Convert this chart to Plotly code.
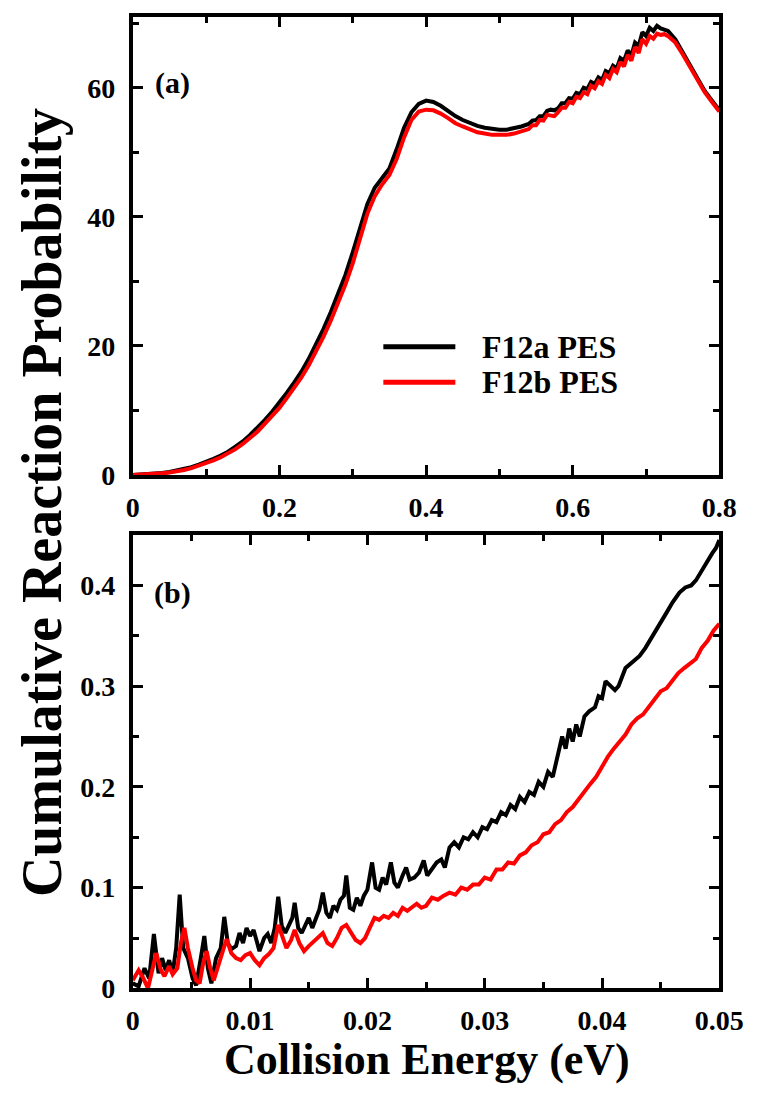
import plotly.graph_objects as go

# ---------------- Panel (a) data ----------------
energy_a = [0.00, 0.01, 0.02, 0.03, 0.04, 0.05, 0.06, 0.07, 0.08, 0.09,
            0.10, 0.11, 0.12, 0.13, 0.14, 0.15, 0.16, 0.17, 0.18, 0.19,
            0.20, 0.21, 0.22, 0.23, 0.24, 0.25, 0.26, 0.27, 0.28, 0.29,
            0.30, 0.31, 0.32, 0.33, 0.34, 0.35, 0.36, 0.37, 0.38, 0.39,
            0.40, 0.41, 0.42, 0.43, 0.44, 0.45, 0.46, 0.47, 0.48, 0.49,
            0.50, 0.51, 0.52, 0.53,
            0.540, 0.545, 0.550, 0.555, 0.560, 0.565, 0.570, 0.575, 0.580, 0.585,
            0.590, 0.595, 0.600, 0.605, 0.610, 0.615, 0.620, 0.625, 0.630, 0.635,
            0.640, 0.645, 0.650, 0.655, 0.660, 0.665, 0.670, 0.675, 0.680, 0.685,
            0.690, 0.695, 0.700, 0.705, 0.710, 0.715, 0.720, 0.725, 0.730,
            0.74, 0.75, 0.76, 0.77, 0.78, 0.79, 0.80]
f12a_a = [0.0, 0.05, 0.1, 0.2, 0.3, 0.45, 0.65, 0.9, 1.2, 1.6,
          2.0, 2.5, 3.0, 3.6, 4.4, 5.2, 6.2, 7.3, 8.5, 9.8,
          11.2, 12.7, 14.3, 16.0, 18.0, 20.2, 22.6, 25.2, 28.0, 31.0,
          34.5, 38.5, 42.0, 44.5, 46.0, 47.5, 50.5, 53.8, 56.2, 57.5,
          58.0, 57.8, 57.2, 56.4, 55.6, 55.0, 54.5, 54.1, 53.8, 53.6,
          53.5, 53.5, 53.7, 54.0,
          54.4, 54.9, 55.0, 55.6, 55.6, 56.4, 56.6, 56.5, 56.8, 57.6,
          57.6, 58.4, 58.3, 59.2, 59.0, 60.0, 59.8, 60.9, 60.6, 61.6,
          61.2, 62.6, 62.3, 63.4, 63.0, 64.6, 64.2, 65.8, 65.0, 67.0,
          66.5, 68.6, 68.0, 69.3, 68.8, 69.6, 69.2, 69.0, 68.8,
          67.5, 65.5, 63.5, 61.5, 59.5, 58.0, 56.5]
f12b_a = [0.0, 0.04, 0.08, 0.15, 0.25, 0.38, 0.55, 0.78, 1.05, 1.4,
          1.8, 2.25, 2.75, 3.3, 4.0, 4.8, 5.7, 6.7, 7.9, 9.1,
          10.4, 11.9, 13.4, 15.1, 17.0, 19.1, 21.4, 23.9, 26.6, 29.5,
          32.8, 36.5, 40.5, 43.2, 45.0, 46.5, 49.0, 52.3, 55.0, 56.3,
          56.6, 56.5, 56.0, 55.3, 54.5, 54.0, 53.5, 53.1, 52.9, 52.7,
          52.7, 52.7, 52.9, 53.2,
          53.6, 54.2, 54.2, 55.0, 54.9, 55.8, 55.7, 55.6, 56.2, 56.9,
          56.9, 57.8, 57.6, 58.6, 58.4, 59.3, 59.0, 60.3, 59.9, 61.0,
          60.6, 62.0, 61.5, 62.9, 62.4, 64.0, 63.3, 65.1, 64.2, 66.3,
          65.4, 67.5, 66.8, 68.0, 67.6, 68.4, 68.2, 68.3, 68.0,
          67.0, 65.2, 63.2, 61.2, 59.3, 57.8, 56.3]

# ---------------- Panel (b) data ----------------
energy_b_a = [0.0000, 0.0005, 0.0010, 0.0014, 0.0018, 0.0022, 0.0025, 0.0028, 0.0031, 0.0034,
              0.0037, 0.0040, 0.0043, 0.0047, 0.0051, 0.0054, 0.0058, 0.0061, 0.0064, 0.0067,
              0.0071, 0.0075, 0.0078, 0.0081, 0.0084, 0.0088, 0.0091, 0.0094, 0.0097, 0.0100,
              0.0103, 0.0106, 0.0108, 0.0112, 0.0115, 0.0118, 0.0121, 0.0124, 0.0127, 0.0130,
              0.0133, 0.0136, 0.0138, 0.0141, 0.0144, 0.0147, 0.0150, 0.0153, 0.0156, 0.0159,
              0.0162, 0.0165, 0.0168, 0.0171, 0.0174, 0.0177, 0.0180, 0.0182, 0.0185, 0.0188,
              0.0191, 0.0194, 0.0197, 0.0200, 0.0204, 0.0207, 0.0210, 0.0213, 0.0216, 0.0220,
              0.0223, 0.0226, 0.0230, 0.0233, 0.0236, 0.0240, 0.0244, 0.0248, 0.0251, 0.0255,
              0.0259, 0.0263, 0.0266, 0.0270, 0.0274, 0.0278, 0.0282, 0.0286, 0.0290, 0.0294,
              0.0298, 0.0302, 0.0306, 0.0310, 0.0314, 0.0318, 0.0322, 0.0326, 0.0330, 0.0334,
              0.0338, 0.0342, 0.0346, 0.0350, 0.0354, 0.0358, 0.0362, 0.0366, 0.0369, 0.0372,
              0.0375, 0.0378, 0.0381, 0.0385, 0.0389, 0.0394, 0.0397, 0.0400, 0.0403, 0.0407,
              0.0411, 0.0414, 0.0420, 0.0427, 0.0432, 0.0437, 0.0444, 0.0450, 0.0455, 0.0460,
              0.0466, 0.0471, 0.0476, 0.0480, 0.0485, 0.0490, 0.0494, 0.0497, 0.0500]
f12a_b = [0.005, 0.002, 0.020, 0.010, 0.054, 0.015, 0.030, 0.018, 0.028, 0.015,
          0.040, 0.093, 0.040, 0.030, 0.010, 0.003, 0.030, 0.052, 0.020, 0.005,
          0.030, 0.040, 0.071, 0.045, 0.039, 0.042, 0.055, 0.045, 0.060, 0.052,
          0.058, 0.045, 0.037, 0.050, 0.054, 0.045, 0.060, 0.091, 0.062, 0.055,
          0.062, 0.070, 0.085, 0.060, 0.055, 0.062, 0.070, 0.060, 0.068, 0.078,
          0.095, 0.075, 0.070, 0.082, 0.078, 0.088, 0.092, 0.112, 0.080, 0.078,
          0.090, 0.082, 0.092, 0.098, 0.125, 0.100, 0.098, 0.110, 0.103, 0.125,
          0.105, 0.100, 0.112, 0.120, 0.108, 0.110, 0.115, 0.127, 0.112, 0.118,
          0.125, 0.128, 0.120, 0.140, 0.145, 0.140, 0.150, 0.148, 0.155, 0.150,
          0.160, 0.158, 0.167, 0.165, 0.175, 0.172, 0.182, 0.178, 0.190, 0.185,
          0.195, 0.192, 0.205, 0.200, 0.215, 0.210, 0.232, 0.250, 0.238, 0.258,
          0.245, 0.262, 0.250, 0.270, 0.275, 0.279, 0.290, 0.288, 0.305, 0.300,
          0.296, 0.300, 0.318, 0.325, 0.330, 0.338, 0.351, 0.362, 0.373, 0.383,
          0.393, 0.398, 0.400, 0.405, 0.415, 0.425, 0.432, 0.437, 0.445]

energy_b_b = [0.0000, 0.0005, 0.0009, 0.0013, 0.0017, 0.0020, 0.0024, 0.0027, 0.0031, 0.0034,
              0.0038, 0.0041, 0.0044, 0.0047, 0.0051, 0.0054, 0.0057, 0.0060, 0.0063, 0.0066,
              0.0069, 0.0072, 0.0076, 0.0080, 0.0084, 0.0088, 0.0092, 0.0096, 0.0100, 0.0104,
              0.0108, 0.0112, 0.0116, 0.0120, 0.0124, 0.0128, 0.0131, 0.0135, 0.0138, 0.0142,
              0.0146, 0.0150, 0.0154, 0.0158, 0.0162, 0.0166, 0.0170, 0.0174, 0.0178, 0.0182,
              0.0186, 0.0190, 0.0194, 0.0198, 0.0202, 0.0206, 0.0210, 0.0214, 0.0218, 0.0222,
              0.0226, 0.0230, 0.0234, 0.0238, 0.0242, 0.0246, 0.0250, 0.0255, 0.0260, 0.0265,
              0.0270, 0.0275, 0.0280, 0.0285, 0.0290, 0.0295, 0.0300, 0.0305, 0.0310, 0.0315,
              0.0320, 0.0325, 0.0330, 0.0335, 0.0340, 0.0345, 0.0350, 0.0355, 0.0360, 0.0365,
              0.0370, 0.0375, 0.0380, 0.0385, 0.0390, 0.0395, 0.0400, 0.0405, 0.0410, 0.0415,
              0.0420, 0.0425, 0.0430, 0.0435, 0.0440, 0.0445, 0.0450, 0.0455, 0.0460, 0.0465,
              0.0470, 0.0475, 0.0480, 0.0485, 0.0490, 0.0495, 0.0500]
f12b_b = [0.008, 0.018, 0.010, 0.000, 0.020, 0.035, 0.018, 0.012, 0.022, 0.014,
          0.020, 0.045, 0.060, 0.040, 0.020, 0.008, 0.005, 0.025, 0.037, 0.020,
          0.008, 0.020, 0.035, 0.049, 0.035, 0.030, 0.028, 0.033, 0.035, 0.028,
          0.023, 0.030, 0.034, 0.040, 0.063, 0.050, 0.040, 0.048, 0.058, 0.045,
          0.037, 0.042, 0.046, 0.050, 0.055, 0.045, 0.042, 0.050, 0.060, 0.063,
          0.055, 0.048, 0.045, 0.050, 0.060, 0.070, 0.068, 0.072, 0.070, 0.075,
          0.072, 0.080, 0.077, 0.080, 0.084, 0.080, 0.082, 0.090, 0.088, 0.092,
          0.095, 0.093, 0.100, 0.098, 0.103, 0.103, 0.110, 0.108, 0.118, 0.118,
          0.125, 0.124, 0.132, 0.135, 0.142, 0.145, 0.153, 0.155, 0.163, 0.167,
          0.175, 0.180, 0.188, 0.195, 0.203, 0.210, 0.220, 0.230, 0.238, 0.245,
          0.252, 0.262, 0.268, 0.272, 0.280, 0.288, 0.295, 0.298, 0.305, 0.313,
          0.318, 0.322, 0.327, 0.338, 0.345, 0.355, 0.362]

series_names = ["F12a PES", "F12b PES"]
series_colors = ["#000000", "#ff0000"]

FONT = "Liberation Serif, Times New Roman, serif"
W, H = 776, 1097

fig = go.Figure()
fig.add_trace(go.Scatter(x=energy_a, y=f12a_a, mode="lines", name=series_names[0],
                         line=dict(color=series_colors[0], width=4), xaxis="x", yaxis="y",
                         showlegend=False))
fig.add_trace(go.Scatter(x=energy_a, y=f12b_a, mode="lines", name=series_names[1],
                         line=dict(color=series_colors[1], width=4), xaxis="x", yaxis="y",
                         showlegend=False))
fig.add_trace(go.Scatter(x=energy_b_a, y=f12a_b, mode="lines", name=series_names[0],
                         line=dict(color=series_colors[0], width=4), xaxis="x2", yaxis="y2",
                         showlegend=False))
fig.add_trace(go.Scatter(x=energy_b_b, y=f12b_b, mode="lines", name=series_names[1],
                         line=dict(color=series_colors[1], width=4), xaxis="x2", yaxis="y2",
                         showlegend=False))

tickfont = dict(family=FONT, size=28, color="black", weight="bold")
x0, x1 = 131 / W, 742 / W
minor_style = dict(ticklen=6, tickwidth=3, ticks="inside", tickcolor="black")

def axis_common(**kw):
    d = dict(showline=True, linewidth=4, linecolor="black", mirror="ticks",
             ticks="inside", ticklen=10, tickwidth=3, tickcolor="black",
             showgrid=False, zeroline=False, tickfont=tickfont)
    d.update(kw)
    return d

fig.update_layout(
    width=W, height=H,
    margin=dict(l=0, r=0, t=0, b=0),
    paper_bgcolor="white", plot_bgcolor="white",
    xaxis=axis_common(domain=[x0, x1], range=[0, 0.8], dtick=0.2, tick0=0,
                      minor=dict(dtick=0.1, **minor_style), anchor="y", ticklabelstandoff=4),
    yaxis=axis_common(domain=[1 - 482 / H, 1 - 17 / H], range=[0, 71], dtick=20, tick0=0,
                      minor=dict(dtick=10, **minor_style), anchor="x", ticklabelstandoff=8),
    xaxis2=axis_common(domain=[x0, x1], range=[0, 0.05], dtick=0.01, tick0=0,
                       minor=dict(dtick=0.005, **minor_style), anchor="y2", ticklabelstandoff=4),
    yaxis2=axis_common(domain=[1 - 1003 / H, 1 - 543 / H], range=[0, 0.45], dtick=0.1, tick0=0,
                       minor=dict(dtick=0.05, **minor_style), anchor="x2", ticklabelstandoff=8),
)

# Panel labels
fig.add_annotation(x=0.054, y=60.8, xref="x", yref="y", text="(a)", showarrow=False,
                   font=dict(family=FONT, size=30, color="black", weight="bold"))
fig.add_annotation(x=0.0034, y=0.393, xref="x2", yref="y2", text="(b)", showarrow=False,
                   font=dict(family=FONT, size=30, color="black", weight="bold"))

# Axis titles
fig.add_annotation(x=36 / W, y=1 - 510 / H, xref="paper", yref="paper",
                   xanchor="center", yanchor="middle",
                   text="Cumulative Reaction Probability", textangle=-90, showarrow=False,
                   font=dict(family=FONT, size=56, color="black", weight="bold"))
fig.add_annotation(x=437 / W, y=1 - 1075 / H, xref="paper", yref="paper",
                   xanchor="center", yanchor="middle",
                   text="Collision Energy (eV)", showarrow=False,
                   font=dict(family=FONT, size=44, color="black", weight="bold"))

# Legend (manual)
legend_y = [352, 388]
for name, color, ly in zip(series_names, series_colors, legend_y):
    fig.add_shape(type="line", xref="paper", yref="paper",
                  x0=392 / W, x1=467 / W, y0=1 - ly / H, y1=1 - ly / H,
                  line=dict(color=color, width=5))
    fig.add_annotation(x=493 / W, y=1 - ly / H, xref="paper", yref="paper",
                       text=name, showarrow=False, xanchor="left", yanchor="middle",
                       font=dict(family=FONT, size=32, color="black", weight="bold"))

fig.write_html("out.html")
